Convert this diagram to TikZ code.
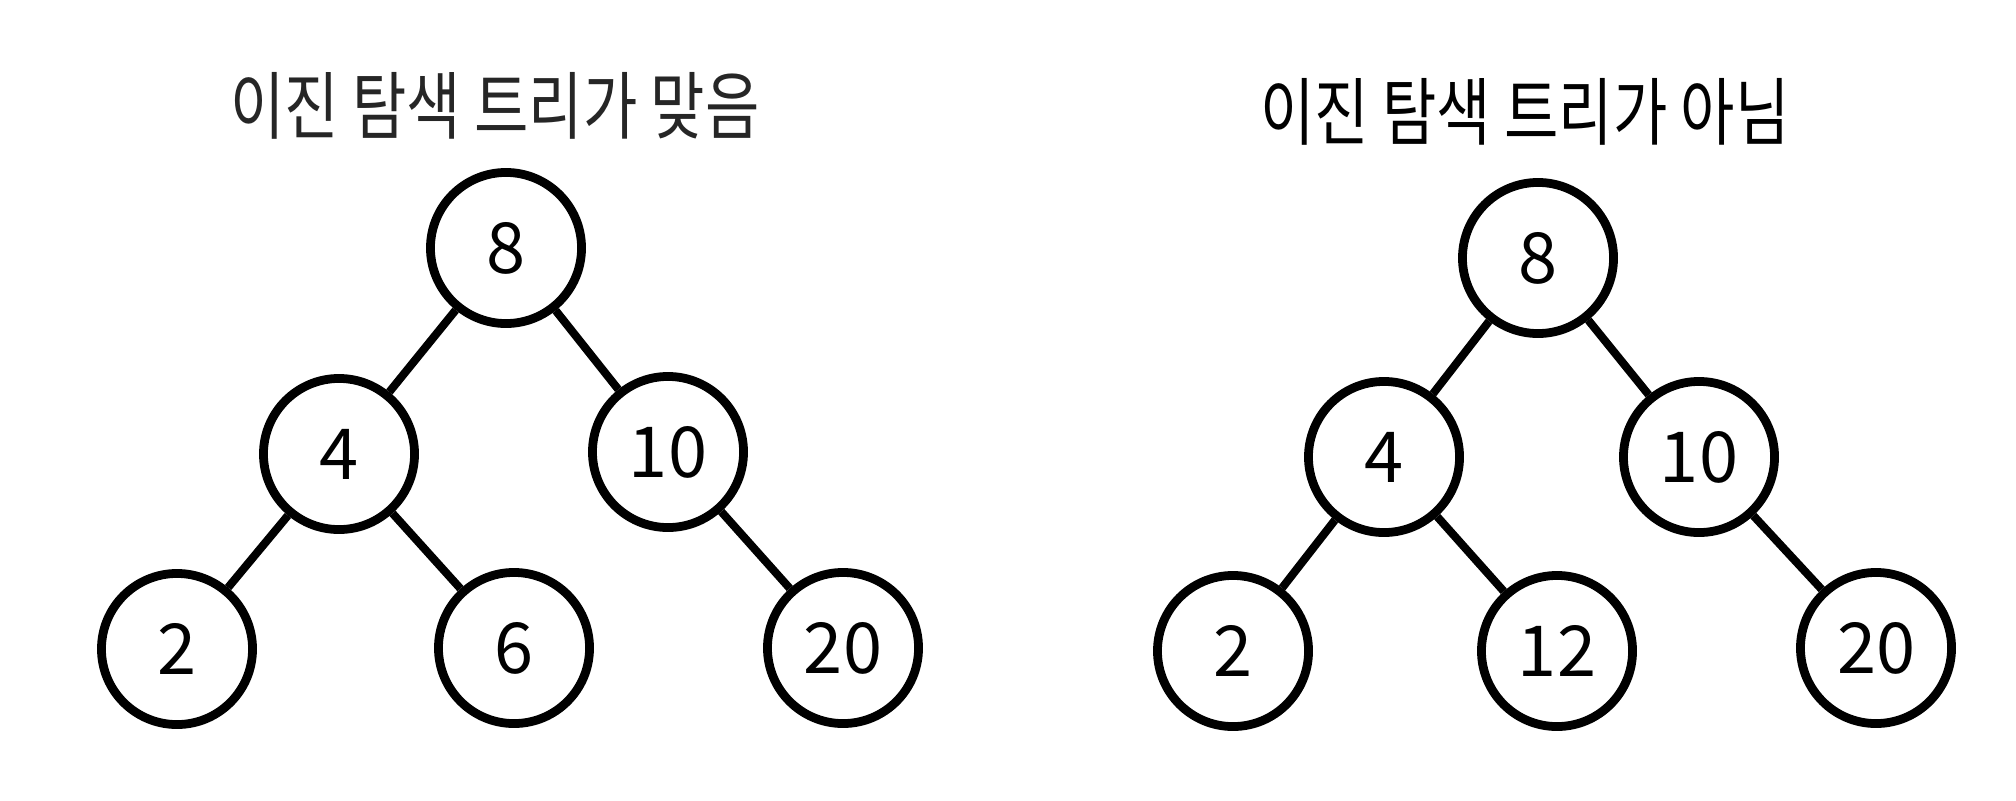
\documentclass[tikz,border=0pt]{standalone}
\usepackage{fontspec}
\newfontfamily\krfont{Noto Sans CJK KR}
\newfontfamily\krtitle[FakeStretch=0.8]{Noto Sans CJK KR}
\usetikzlibrary{positioning}
\tikzset{
  bstnode/.style={circle,draw,line width=2.5pt,minimum size=1.51cm,inner sep=0pt,
    font=\krfont\fontsize{20}{20}\selectfont},
  bstedge/.style={line width=2.3pt},
  treetitle/.style={font=\krtitle\fontsize{21}{21}\selectfont}
}

\begin{document}
\begin{tikzpicture}[x=0.01cm,y=-0.01cm]
  \useasboundingbox (0,0) rectangle (2016,800);
  % left tree: a valid search tree
  \node[treetitle,text=black!85] (tl) at (495,106) {이진 탐색 트리가 맞음};
  \node[bstnode] (a8) at (506,248) {8};
  \node[bstnode] (a4) at (339,454) {4};
  \node[bstnode] (a10) at (668,452) {10};
  \node[bstnode] (a2) at (177,649) {2};
  \node[bstnode] (a6) at (514,648) {6};
  \node[bstnode] (a20) at (843,648) {20};
  \draw[bstedge] (a8) -- (a4);
  \draw[bstedge] (a8) -- (a10);
  \draw[bstedge] (a4) -- (a2);
  \draw[bstedge] (a4) -- (a6);
  \draw[bstedge] (a10) -- (a20);
  % right tree: 12 breaks the rule
  \node[treetitle] (tr) at (1525,112) {이진 탐색 트리가 아님};
  \node[bstnode] (b8) at (1538,258) {8};
  \node[bstnode] (b4) at (1384,457) {4};
  \node[bstnode] (b10) at (1699,457) {10};
  \node[bstnode] (b2) at (1233,651) {2};
  \node[bstnode] (b12) at (1557,651) {12};
  \node[bstnode] (b20) at (1876,648) {20};
  \draw[bstedge] (b8) -- (b4);
  \draw[bstedge] (b8) -- (b10);
  \draw[bstedge] (b4) -- (b2);
  \draw[bstedge] (b4) -- (b12);
  \draw[bstedge] (b10) -- (b20);
\end{tikzpicture}
\end{document}
